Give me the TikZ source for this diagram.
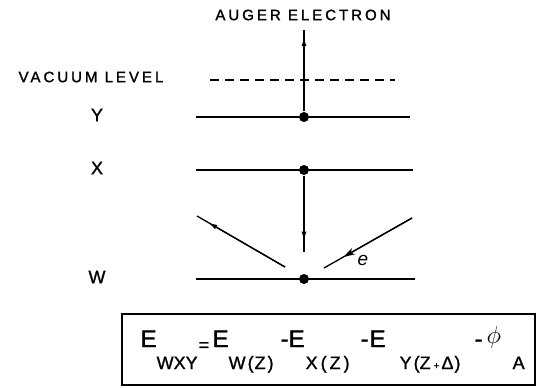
\documentclass[tikz,border=0pt]{standalone}
\usepackage{fontspec}
\setmainfont{Liberation Sans}
\newfontfamily\lblfont{Liberation Sans}[LetterSpace=20, FakeBold=1.5]
\newfontfamily\heavyfont{Liberation Sans}[FakeBold=1.2]
\usetikzlibrary{arrows.meta, positioning, calc}

\begin{document}
\begin{tikzpicture}[x=1pt, y=-1pt, line width=1.3pt,
    lbl/.style={font=\fontsize{15}{15}\selectfont\lblfont, inner sep=0pt},
    lvlname/.style={font=\fontsize{18}{18}\selectfont\heavyfont, inner sep=0pt},
    level/.style={line width=1.7pt},
    elec/.style={circle, fill, inner sep=0pt, minimum size=10pt},
    tip/.style={-{Latex[length=9pt, width=5pt]}},
    full tip/.style={-{Stealth[length=12pt, width=7pt]}},
    eqmain/.style={anchor=base west, inner sep=0pt, font=\fontsize{24}{24}\selectfont\heavyfont},
    eqsub/.style={anchor=base west, inner sep=0pt, font=\fontsize{18}{18}\selectfont\heavyfont}]
    \useasboundingbox (0,0) rectangle (541,388);

    % labels on the left
    \node[lbl] (auger) at (303,15) {AUGER ELECTRON};
    \node[lbl] (vac) at (91,77) {VACUUM LEVEL};
    \node[lvlname] (lY) at (97,115) {Y};
    \node[lvlname] (lX) at (97,168) {X};
    \node[lvlname] (lW) at (97,277) {W};

    % energy levels
    \coordinate (vacL) at (210,80);  \coordinate (vacR) at (395,80);
    \coordinate (yL) at (196,117);   \coordinate (yR) at (410,117);
    \coordinate (xL) at (196,170);   \coordinate (xR) at (413,170);
    \coordinate (wL) at (196,279);   \coordinate (wR) at (415,279);
    \draw[dashed, dash pattern=on 9pt off 6pt] (vacL) -- (vacR);
    \draw[level] (yL) -- (yR);
    \draw[level] (xL) -- (xR);
    \draw[level] (wL) -- (wR);

    \node[elec] (eY) at (304,117) {};
    \node[elec] (eX) at (304,170) {};
    \node[elec] (eW) at (304,279) {};

    % auger electron leaving
    \coordinate (top) at (304,30);
    \draw (eY) -- (top);
    \draw[tip] (eY) -- ($(eY)!0.92!(top)$);

    % electron falling into W
    \coordinate (fall) at (304,252);
    \draw (eX) -- (fall);
    \draw[tip] (eX) -- ($(eX)!0.86!(fall)$);

    % ejected W electron
    \coordinate (outS) at (285,267);
    \coordinate (outE) at (197,216);
    \draw (outS) -- (outE);
    \draw[tip] (outS) -- ($(outS)!0.87!(outE)$);

    % incoming electron
    \coordinate (inS) at (412,218);
    \coordinate (inE) at (324,268);
    \draw (inS) -- (inE);
    \draw[full tip] (inS) -- ($(inS)!0.78!(inE)$);
    \node[font=\fontsize{19}{19}\selectfont\itshape, inner sep=0pt] (elab) at (363,260) {e};

    % equation box
    \node[draw, line width=1.2pt, minimum width=413pt, minimum height=71pt] (eqbox) at (328.5,349.5) {};
    \node[eqmain] (e1) at (140,347) {E};
    \node[eqsub] (s1) at (156,369) {WXY};
    \node[eqsub] (eqs) at (198,351) {=};
    \node[eqmain] (e2) at (212,347) {E};
    \node[eqsub] (s2) at (228,369) {W\hspace{2pt}(\hspace{1pt}Z\hspace{2pt})};
    \node[eqmain] (m1) at (280,347) {-};
    \node[eqmain] (e3) at (288,347) {E};
    \node[eqsub] (s3) at (305,369) {X\hspace{3pt}(\hspace{3pt}Z\hspace{3pt})};
    \node[eqmain] (m2) at (360,347) {-};
    \node[eqmain] (e4) at (369,347) {E};
    \node[eqsub] (s4) at (399,369) {Y\hspace{2pt}(Z\hspace{3pt}{\fontsize{10}{10}\selectfont+}\hspace{2pt}Δ\hspace{1pt})};
    \node[eqmain] (m3) at (474,347) {-};
    \node[eqmain] (phi) at (486,343) {$\phi$};
    \node[eqsub] (s5) at (512,369) {A};
\end{tikzpicture}
\end{document}
